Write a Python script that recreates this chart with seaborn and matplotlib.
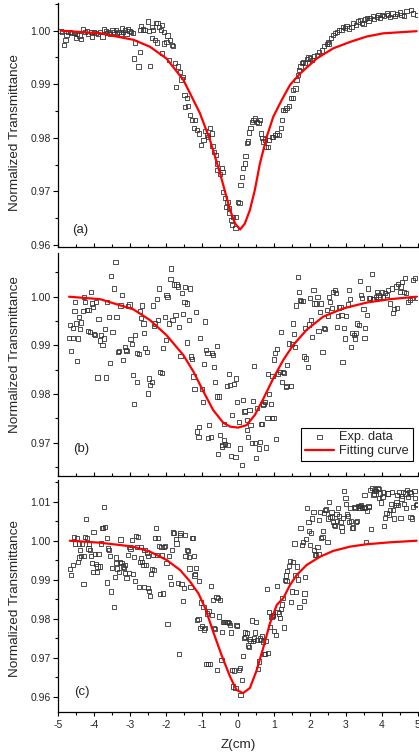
import matplotlib
matplotlib.use('Agg')
import matplotlib.pyplot as plt
from matplotlib.ticker import MultipleLocator, FormatStrFormatter
import seaborn as sns

# ---- panel (a) measured data ----
a_z = [-4.94, -4.90, -4.83, -4.80, -4.77, -4.72, -4.68, -4.63, -4.57, -4.54,
       -4.50, -4.47, -4.41, -4.37, -4.31, -4.26, -4.21, -4.17, -4.10, -4.06,
       -4.00, -3.94, -3.89, -3.85, -3.77, -3.73, -3.68, -3.64, -3.59, -3.55,
       -3.49, -3.44, -3.40, -3.36, -3.30, -3.26, -3.22, -3.19, -3.14, -3.10,
       -3.07, -3.02, -2.98, -2.93, -2.89, -2.87, -2.77, -2.73, -2.72, -2.70,
       -2.65, -2.59, -2.51, -2.47, -2.44, -2.40, -2.39, -2.36, -2.31, -2.28,
       -2.26, -2.24, -2.19, -2.15, -2.12, -2.11, -2.07, -2.05, -1.99, -1.96,
       -1.93, -1.89, -1.84, -1.80, -1.75, -1.73, -1.68, -1.61, -1.57, -1.54,
       -1.49, -1.47, -1.43, -1.38, -1.34, -1.29, -1.22, -1.19, -1.15, -1.09,
       -1.03, -0.96, -0.92, -0.87, -0.83, -0.78, -0.73, -0.71, -0.66, -0.61,
       -0.59, -0.58, -0.50, -0.45, -0.43, -0.41, -0.36, -0.33, -0.29, -0.26,
       -0.24, -0.19, -0.16, -0.13, -0.07, -0.05, 0.00, 0.04, 0.07, 0.12,
       0.15, 0.19, 0.21, 0.24, 0.29, 0.31, 0.35, 0.38, 0.43, 0.47,
       0.52, 0.57, 0.61, 0.64, 0.68, 0.71, 0.75, 0.78, 0.83, 0.87,
       0.94, 0.98, 1.03, 1.08, 1.15, 1.20, 1.23, 1.26, 1.31, 1.35,
       1.41, 1.47, 1.52, 1.54, 1.60, 1.63, 1.68, 1.70, 1.74, 1.77,
       1.82, 1.86, 1.91, 1.96, 2.00, 2.07, 2.12, 2.19, 2.26, 2.34,
       2.40, 2.47, 2.51, 2.54, 2.58, 2.65, 2.70, 2.75, 2.82, 2.88,
       2.93, 2.98, 3.02, 3.10, 3.16, 3.21, 3.28, 3.35, 3.40, 3.44,
       3.49, 3.53, 3.58, 3.63, 3.67, 3.75, 3.79, 3.86, 3.91, 3.95,
       4.00, 4.06, 4.14, 4.18, 4.23, 4.30, 4.37, 4.42, 4.51, 4.55,
       4.62, 4.69, 4.81, 4.88, 4.97]
a_t = [1.0000, 0.9998, 0.9974, 0.9982, 0.9992, 0.9997, 0.9998, 0.9995, 0.9996, 0.9995,
       0.9986, 0.9993, 0.9991, 0.9984, 1.0003, 0.9997, 1.0000, 0.9994, 0.9997, 0.9988,
       0.9997, 0.9996, 0.9994, 0.9998, 0.9989, 1.0002, 0.9999, 0.9995, 0.9998, 0.9993,
       1.0001, 0.9998, 1.0001, 0.9995, 0.9998, 0.9993, 1.0004, 0.9998, 1.0001, 0.9993,
       1.0003, 0.9999, 0.9997, 0.9995, 0.9948, 0.9978, 0.9933, 0.9960, 1.0001, 1.0009,
       1.0002, 1.0001, 1.0017, 0.9999, 0.9934, 1.0007, 0.9986, 1.0001, 0.9983, 1.0014,
       0.9978, 1.0015, 1.0007, 1.0001, 0.9958, 1.0010, 0.9998, 0.9976, 0.9979, 0.9991,
       0.9945, 0.9982, 0.9973, 0.9972, 0.9940, 0.9895, 0.9933, 0.9923, 0.9909, 0.9913,
       0.9880, 0.9858, 0.9874, 0.9859, 0.9843, 0.9833, 0.9818, 0.9833, 0.9814, 0.9808,
       0.9787, 0.9796, 0.9812, 0.9805, 0.9802, 0.9818, 0.9808, 0.9784, 0.9774, 0.9768,
       0.9740, 0.9752, 0.9733, 0.9743, 0.9736, 0.9699, 0.9687, 0.9671, 0.9681, 0.9669,
       0.9659, 0.9647, 0.9637, 0.9653, 0.9631, 0.9653, 0.9681, 0.9678, 0.9712, 0.9727,
       0.9743, 0.9752, 0.9766, 0.9790, 0.9793, 0.9810, 0.9818, 0.9830, 0.9833, 0.9836,
       0.9830, 0.9827, 0.9833, 0.9808, 0.9799, 0.9793, 0.9797, 0.9783, 0.9783, 0.9796,
       0.9802, 0.9801, 0.9805, 0.9808, 0.9805, 0.9818, 0.9833, 0.9852, 0.9852, 0.9855,
       0.9859, 0.9874, 0.9874, 0.9889, 0.9892, 0.9908, 0.9917, 0.9927, 0.9933, 0.9939,
       0.9942, 0.9940, 0.9947, 0.9950, 0.9948, 0.9945, 0.9952, 0.9955, 0.9960, 0.9963,
       0.9972, 0.9975, 0.9979, 0.9976, 0.9987, 0.9992, 0.9996, 0.9998, 1.0001, 1.0001,
       1.0007, 1.0005, 1.0009, 1.0004, 1.0007, 1.0014, 1.0011, 1.0017, 1.0020, 1.0015,
       1.0012, 1.0021, 1.0023, 1.0019, 1.0023, 1.0027, 1.0021, 1.0026, 1.0029, 1.0023,
       1.0029, 1.0027, 1.0032, 1.0029, 1.0026, 1.0032, 1.0027, 1.0031, 1.0034, 1.0029,
       1.0027, 1.0036, 1.0039, 1.0032, 1.0029]
# panel (a) fitting curve
af_z = [-4.93, -3.84, -2.91, -2.45, -1.99, -1.52, -1.06, -0.78, -0.50, -0.22, -0.08,
        0.06, 0.19, 0.33, 0.47, 0.61, 0.80, 0.98, 1.22, 1.45, 1.73, 2.19, 2.65, 3.12,
        3.58, 4.04, 4.97]
af_t = [1.0000, 0.9995, 0.9983, 0.9970, 0.9948, 0.9908, 0.9846, 0.9796, 0.9734, 0.9665, 0.9640,
        0.9629, 0.9640, 0.9665, 0.9703, 0.9752, 0.9802, 0.9839, 0.9871, 0.9899, 0.9920, 0.9948,
        0.9967, 0.9979, 0.9989, 0.9995, 0.9999]

# ---- panel (b) measured data ----
b_z = [-4.70, -4.68, -4.65, -4.60, -4.58, -4.55, -4.54, -4.51, -4.47, -4.45,
       -4.43, -4.40, -4.36, -4.32, -4.29, -4.25, -4.21, -4.18, -4.16, -4.12,
       -4.09, -4.06, -4.04, -4.00, -3.97, -3.94, -3.91, -3.88, -3.84, -3.81,
       -3.77, -3.73, -3.70, -3.67, -3.64, -3.59, -3.56, -3.53, -3.49, -3.45,
       -3.41, -3.38, -3.34, -3.30, -3.27, -3.23, -3.19, -3.15, -3.12, -3.10,
       -3.06, -3.02, -2.99, -2.95, -2.93, -2.89, -2.87, -2.82, -2.80, -2.75,
       -2.72, -2.70, -2.66, -2.63, -2.61, -2.58, -2.54, -2.51, -2.48, -2.44,
       -2.40, -2.37, -2.34, -2.30, -2.26, -2.23, -2.19, -2.16, -2.12, -2.08,
       -2.04, -2.01, -1.99, -1.96, -1.92, -1.88, -1.86, -1.82, -1.78, -1.74,
       -1.71, -1.67, -1.63, -1.60, -1.56, -1.53, -1.49, -1.47, -1.43, -1.41,
       -1.37, -1.34, -1.31, -1.27, -1.24, -1.21, -1.17, -1.14, -1.10, -1.08,
       -1.05, -1.01, -0.98, -0.95, -0.92, -0.88, -0.85, -0.83, -0.80, -0.76,
       -0.72, -0.69, -0.66, -0.63, -0.59, -0.58, -0.55, -0.52, -0.49, -0.45,
       -0.43, -0.40, -0.38, -0.35, -0.31, -0.27, -0.24, -0.22, -0.19, -0.16,
       -0.12, -0.07, -0.06, -0.02, 0.02, 0.06, 0.10, 0.15, 0.18, 0.20,
       0.24, 0.26, 0.29, 0.32, 0.35, 0.38, 0.41, 0.45, 0.47, 0.51,
       0.54, 0.58, 0.61, 0.64, 0.67, 0.69, 0.71, 0.75, 0.78, 0.82,
       0.84, 0.87, 0.91, 0.94, 0.96, 0.99, 1.01, 1.03, 1.06, 1.09,
       1.12, 1.16, 1.20, 1.22, 1.26, 1.29, 1.33, 1.35, 1.37, 1.43,
       1.47, 1.50, 1.52, 1.56, 1.59, 1.62, 1.66, 1.70, 1.73, 1.76,
       1.80, 1.84, 1.87, 1.90, 1.94, 1.98, 2.00, 2.02, 2.07, 2.10,
       2.13, 2.16, 2.21, 2.24, 2.28, 2.32, 2.35, 2.39, 2.43, 2.47,
       2.50, 2.54, 2.57, 2.62, 2.65, 2.69, 2.73, 2.75, 2.78, 2.82,
       2.85, 2.88, 2.91, 2.94, 2.98, 3.01, 3.05, 3.08, 3.11, 3.14,
       3.18, 3.22, 3.26, 3.29, 3.32, 3.36, 3.39, 3.42, 3.45, 3.49,
       3.52, 3.54, 3.58, 3.61, 3.65, 3.68, 3.72, 3.76, 3.79, 3.84,
       3.87, 3.91, 3.95, 4.00, 4.04, 4.09, 4.14, 4.18, 4.23, 4.28,
       4.31, 4.35, 4.39, 4.42, 4.46, 4.50, 4.54, 4.57, 4.61, 4.65,
       4.68, 4.73, 4.78, 4.83, 4.88, 4.93, 4.97]
b_t = [0.9916, 0.9942, 0.9889, 0.9916, 0.9935, 0.9971, 0.9990, 0.9945, 0.9868, 0.9914,
       0.9958, 0.9933, 0.9947, 0.9971, 1.0000, 0.9990, 0.9973, 0.9929, 0.9973, 0.9928,
       1.0009, 0.9986, 0.9979, 0.9923, 0.9921, 0.9990, 0.9834, 0.9955, 0.9910, 0.9921,
       0.9901, 0.9914, 0.9934, 0.9834, 0.9990, 0.9959, 0.9864, 1.0043, 0.9927, 1.0017,
       1.0072, 0.9959, 0.9887, 0.9888, 0.9982, 1.0003, 0.9870, 0.9897, 0.9890, 0.9888,
       0.9981, 0.9984, 0.9913, 0.9903, 0.9839, 0.9779, 0.9921, 0.9884, 0.9825, 0.9882,
       0.9971, 0.9957, 0.9982, 0.9945, 0.9925, 0.9894, 0.9886, 0.9801, 0.9832, 0.9818,
       0.9824, 0.9982, 0.9940, 0.9945, 0.9995, 0.9953, 1.0017, 0.9846, 0.9844, 0.9894,
       0.9958, 0.9911, 1.0003, 0.9999, 0.9945, 1.0036, 1.0058, 0.9952, 1.0025, 0.9962,
       1.0025, 1.0021, 0.9938, 0.9878, 1.0007, 0.9964, 0.9990, 1.0020, 0.9986, 0.9906,
       0.9953, 1.0017, 0.9877, 0.9872, 0.9836, 0.9810, 0.9969, 0.9723, 0.9712, 0.9733,
       0.9916, 0.9810, 0.9784, 0.9861, 0.9949, 0.9890, 0.9884, 0.9709, 0.9736, 0.9712,
       0.9884, 0.9880, 0.9856, 0.9824, 0.9795, 0.9899, 0.9676, 0.9795, 0.9716, 0.9692,
       0.9695, 0.9705, 0.9738, 0.9697, 0.9817, 0.9695, 0.9842, 0.9818, 0.9673, 0.9757,
       0.9820, 0.9671, 0.9832, 0.9784, 0.9743, 0.9688, 0.9654, 0.9788, 0.9764, 0.9765,
       0.9747, 0.9726, 0.9712, 0.9767, 0.9736, 0.9699, 0.9786, 0.9858, 0.9699, 0.9669,
       0.9771, 0.9688, 0.9702, 0.9738, 0.9738, 0.9777, 0.9779, 0.9784, 0.9690, 0.9750,
       0.9842, 0.9800, 0.9779, 0.9750, 0.9837, 0.9750, 0.9871, 0.9884, 0.9707, 0.9892,
       0.9842, 0.9846, 0.9927, 0.9825, 0.9846, 0.9844, 0.9814, 0.9816, 0.9860, 0.9904,
       0.9816, 0.9903, 0.9945, 0.9923, 0.9897, 0.9982, 1.0040, 1.0009, 0.9993, 0.9992,
       0.9992, 0.9877, 0.9935, 0.9873, 0.9856, 0.9943, 0.9998, 0.9953, 0.9918, 1.0014,
       0.9986, 0.9986, 1.0000, 0.9930, 0.9969, 0.9986, 0.9886, 0.9935, 0.9933, 0.9973,
       0.9961, 1.0000, 0.9990, 0.9976, 1.0010, 1.0014, 1.0007, 0.9938, 0.9960, 0.9978,
       0.9979, 0.9962, 0.9866, 0.9935, 0.9914, 0.9961, 0.9984, 1.0014, 0.9995, 0.9897,
       0.9926, 0.9921, 0.9914, 0.9925, 0.9945, 0.9942, 1.0033, 1.0003, 0.9997, 0.9974,
       0.9916, 0.9935, 0.9962, 1.0017, 0.9997, 0.9997, 1.0047, 0.9995, 0.9995, 1.0000,
       1.0010, 1.0003, 1.0000, 1.0010, 1.0000, 1.0007, 1.0003, 1.0014, 0.9986, 1.0017,
       0.9966, 0.9975, 1.0021, 0.9976, 1.0027, 1.0010, 1.0021, 1.0031, 1.0010, 1.0038,
       1.0007, 0.9990, 0.9993, 0.9998, 1.0034, 1.0038, 0.9998]
# panel (b) fitting curve
bf_z = [-4.70, -3.84, -2.91, -2.45, -1.99, -1.52, -1.24, -0.96, -0.69, -0.41, -0.22, 0.00,
        0.24, 0.47, 0.71, 0.98, 1.26, 1.54, 1.91, 2.37, 2.93, 3.58, 4.23, 4.97]
bf_t = [1.0000, 0.9995, 0.9974, 0.9952, 0.9921, 0.9880, 0.9846, 0.9805, 0.9767, 0.9741, 0.9733,
        0.9731, 0.9736, 0.9757, 0.9791, 0.9832, 0.9870, 0.9901, 0.9932, 0.9959, 0.9976, 0.9988,
        0.9995, 1.0000]

# ---- panel (c) measured data ----
c_z = [-4.68, -4.65, -4.60, -4.56, -4.53, -4.49, -4.46, -4.43, -4.42, -4.40,
       -4.36, -4.33, -4.30, -4.28, -4.25, -4.22, -4.19, -4.16, -4.14, -4.12,
       -4.09, -4.06, -4.04, -4.02, -3.98, -3.96, -3.93, -3.91, -3.88, -3.85,
       -3.82, -3.79, -3.75, -3.72, -3.69, -3.65, -3.64, -3.61, -3.58, -3.55,
       -3.53, -3.50, -3.46, -3.43, -3.40, -3.38, -3.36, -3.32, -3.29, -3.27,
       -3.24, -3.21, -3.18, -3.15, -3.14, -3.10, -3.07, -3.04, -3.02, -2.99,
       -2.96, -2.93, -2.89, -2.87, -2.84, -2.81, -2.78, -2.75, -2.73, -2.71,
       -2.69, -2.66, -2.63, -2.62, -2.60, -2.57, -2.54, -2.51, -2.50, -2.48,
       -2.45, -2.42, -2.39, -2.37, -2.34, -2.31, -2.28, -2.25, -2.23, -2.20,
       -2.17, -2.13, -2.11, -2.08, -2.05, -2.02, -1.99, -1.96, -1.93, -1.89,
       -1.86, -1.84, -1.81, -1.77, -1.73, -1.71, -1.68, -1.65, -1.62, -1.60,
       -1.57, -1.54, -1.51, -1.48, -1.46, -1.43, -1.40, -1.37, -1.35, -1.32,
       -1.29, -1.26, -1.23, -1.21, -1.19, -1.17, -1.13, -1.10, -1.08, -1.05,
       -1.02, -0.99, -0.96, -0.95, -0.92, -0.89, -0.86, -0.83, -0.81, -0.78,
       -0.75, -0.72, -0.69, -0.66, -0.63, -0.60, -0.58, -0.55, -0.52, -0.49,
       -0.46, -0.44, -0.41, -0.38, -0.35, -0.32, -0.29, -0.26, -0.22, -0.19,
       -0.16, -0.13, -0.10, -0.07, -0.04, -0.02, 0.02, 0.05, 0.07, 0.10,
       0.13, 0.16, 0.19, 0.21, 0.24, 0.27, 0.30, 0.32, 0.35, 0.39,
       0.41, 0.45, 0.47, 0.50, 0.53, 0.56, 0.58, 0.61, 0.64, 0.67,
       0.70, 0.73, 0.76, 0.79, 0.81, 0.84, 0.87, 0.90, 0.93, 0.96,
       0.98, 1.01, 1.05, 1.08, 1.10, 1.13, 1.16, 1.19, 1.22, 1.24,
       1.27, 1.30, 1.33, 1.35, 1.37, 1.41, 1.45, 1.48, 1.51, 1.54,
       1.57, 1.60, 1.62, 1.65, 1.68, 1.71, 1.74, 1.77, 1.80, 1.83,
       1.85, 1.87, 1.90, 1.93, 1.96, 1.98, 2.01, 2.04, 2.07, 2.10,
       2.12, 2.15, 2.18, 2.21, 2.24, 2.26, 2.29, 2.32, 2.35, 2.37,
       2.40, 2.43, 2.46, 2.49, 2.51, 2.54, 2.57, 2.60, 2.62, 2.65,
       2.68, 2.71, 2.74, 2.76, 2.79, 2.82, 2.85, 2.88, 2.90, 2.93,
       2.96, 2.99, 3.01, 3.04, 3.07, 3.10, 3.13, 3.15, 3.18, 3.21,
       3.24, 3.27, 3.29, 3.32, 3.35, 3.38, 3.40, 3.43, 3.46, 3.49,
       3.52, 3.54, 3.57, 3.60, 3.63, 3.65, 3.68, 3.71, 3.74, 3.77,
       3.79, 3.82, 3.85, 3.88, 3.91, 3.93, 3.96, 3.99, 4.02, 4.04,
       4.07, 4.10, 4.13, 4.16, 4.18, 4.21, 4.24, 4.27, 4.29, 4.32,
       4.35, 4.38, 4.41, 4.43, 4.46, 4.49, 4.52, 4.55, 4.57, 4.60,
       4.63, 4.66, 4.68, 4.71, 4.74, 4.77, 4.80, 4.82, 4.85, 4.88,
       4.91, 4.93, 4.96, 4.99]
c_t = [0.9927, 0.9912, 0.9938, 1.0009, 0.9993, 1.0006, 0.9946, 0.9957, 0.9993, 0.9976,
       0.9961, 0.9993, 0.9890, 0.9962, 1.0009, 1.0055, 1.0006, 0.9980, 0.9991, 0.9976,
       0.9962, 0.9942, 0.9921, 1.0023, 0.9966, 0.9940, 0.9919, 0.9934, 0.9967, 0.9934,
       0.9993, 1.0033, 1.0032, 1.0087, 1.0036, 0.9893, 1.0006, 0.9980, 0.9976, 0.9961,
       0.9870, 0.9931, 0.9831, 0.9908, 0.9957, 0.9942, 0.9929, 0.9919, 0.9945, 1.0003,
       0.9942, 0.9934, 0.9931, 0.9918, 0.9938, 0.9904, 0.9963, 0.9917, 0.9985, 0.9979,
       1.0002, 0.9914, 0.9959, 0.9898, 1.0013, 0.9985, 1.0010, 0.9882, 0.9945, 0.9983,
       0.9955, 0.9945, 0.9938, 0.9882, 0.9976, 0.9938, 0.9970, 0.9961, 0.9878, 0.9872,
       0.9859, 0.9914, 0.9927, 0.9963, 0.9925, 1.0006, 1.0033, 0.9963, 1.0008, 0.9986,
       0.9863, 0.9985, 0.9963, 0.9865, 0.9985, 0.9987, 0.9944, 0.9786, 0.9961, 0.9908,
       0.9889, 0.9976, 1.0021, 1.0020, 1.0004, 0.9993, 0.9891, 0.9711, 1.0014, 1.0019,
       0.9889, 0.9846, 0.9878, 1.0014, 0.9962, 0.9976, 0.9974, 0.9959, 0.9929, 0.9882,
       1.0008, 1.0006, 0.9961, 0.9911, 0.9915, 0.9931, 0.9797, 0.9800, 0.9898, 0.9776,
       0.9842, 0.9782, 0.9831, 0.9773, 0.9777, 0.9685, 0.9814, 0.9685, 0.9821, 0.9685,
       0.9885, 0.9810, 0.9848, 0.9776, 0.9774, 0.9855, 0.9670, 0.9853, 0.9806, 0.9848,
       0.9695, 0.9766, 0.9793, 0.9793, 0.9793, 0.9791, 0.9791, 0.9789, 0.9784, 0.9765,
       0.9670, 0.9627, 0.9668, 0.9623, 0.9784, 0.9782, 0.9670, 0.9674, 0.9606, 0.9644,
       0.9704, 0.9752, 0.9765, 0.9754, 0.9763, 0.9732, 0.9727, 0.9748, 0.9744, 0.9796,
       0.9744, 0.9750, 0.9765, 0.9793, 0.9746, 0.9671, 0.9691, 0.9750, 0.9745, 0.9756,
       0.9742, 0.9711, 0.9710, 0.9744, 0.9877, 0.9712, 0.9817, 0.9779, 0.9806, 0.9807,
       0.9810, 0.9769, 0.9759, 0.9884, 0.9817, 0.9814, 0.9803, 0.9825, 0.9837, 0.9853,
       0.9778, 0.9899, 0.9911, 0.9898, 0.9922, 0.9936, 0.9948, 0.9844, 0.9870, 0.9946,
       0.9993, 0.9912, 0.9868, 0.9934, 0.9901, 0.9831, 1.0032, 0.9989, 0.9997, 0.9846,
       0.9865, 0.9908, 1.0004, 1.0083, 1.0049, 1.0025, 0.9989, 1.0019, 1.0057, 1.0074,
       0.9976, 0.9965, 0.9963, 0.9985, 0.9966, 1.0053, 1.0074, 1.0008, 1.0010, 1.0025,
       1.0070, 1.0078, 1.0080, 0.9997, 1.0057, 1.0100, 1.0060, 1.0074, 1.0061, 1.0049,
       1.0040, 1.0037, 1.0068, 1.0050, 1.0083, 1.0063, 1.0049, 1.0036, 1.0025, 1.0059,
       1.0127, 1.0110, 1.0095, 1.0068, 1.0064, 1.0047, 1.0083, 1.0050, 1.0032, 1.0034,
       1.0087, 1.0083, 1.0049, 1.0050, 1.0089, 1.0085, 1.0089, 1.0091, 1.0084, 1.0087,
       1.0117, 1.0084, 0.9997, 1.0076, 1.0089, 1.0087, 1.0129, 1.0029, 1.0135, 1.0117,
       1.0121, 1.0131, 1.0127, 1.0135, 1.0132, 1.0110, 1.0121, 1.0098, 1.0112, 1.0124,
       1.0038, 1.0059, 1.0070, 1.0121, 1.0121, 1.0067, 1.0078, 1.0095, 1.0125, 1.0078,
       1.0057, 1.0091, 1.0098, 1.0117, 1.0091, 1.0125, 1.0059, 1.0108, 1.0114, 1.0125,
       1.0093, 1.0121, 1.0083, 1.0129, 1.0112, 1.0125, 1.0061, 1.0121, 1.0057, 1.0087,
       1.0127, 1.0110, 1.0091, 1.0095]
# panel (c) fitting curve
cf_z = [-4.68, -3.84, -2.91, -2.45, -1.99, -1.61, -1.33, -1.10, -0.91, -0.69, -0.46, -0.22,
        -0.04, 0.14, 0.33, 0.51, 0.70, 0.89, 1.08, 1.26, 1.45, 1.63, 1.91, 2.28, 2.65,
        3.12, 3.58, 4.23, 4.97]
cf_t = [1.0000, 0.9995, 0.9985, 0.9972, 0.9951, 0.9925, 0.9895, 0.9865, 0.9827, 0.9767, 0.9708,
        0.9652, 0.9618, 0.9610, 0.9623, 0.9666, 0.9725, 0.9789, 0.9836, 0.9853, 0.9887, 0.9912,
        0.9938, 0.9959, 0.9974, 0.9985, 0.9991, 0.9996, 1.0000]

panel_tags = ['(a)', '(b)', '(c)']
y_label = 'Normalized Transmittance'
x_label = 'Z(cm)'


sns.set_style('ticks')
plt.rcParams['font.family'] = ['Liberation Sans', 'DejaVu Sans']
plt.rcParams['axes.unicode_minus'] = False

fig = plt.figure(figsize=(4.19, 7.56), dpi=100)

boxes = [[0.1391, 0.6733, 0.8578, 0.3228],
         [0.1391, 0.3708, 0.8578, 0.2945],
         [0.1391, 0.0582, 0.8578, 0.3069]]
ylims = [(0.95963, 1.00517), (0.96322, 1.00898), (0.95617, 1.01555)]
tag_pos = [(0.06, 0.07), (0.065, 0.12), (0.065, 0.086)]
label_y = [0.467, 0.542, 0.487]

data = [(a_z, a_t, af_z, af_t), (b_z, b_t, bf_z, bf_t), (c_z, c_t, cf_z, cf_t)]

for i, (z, t, fz, ft) in enumerate(data):
    ax = fig.add_axes(boxes[i])

    sns.scatterplot(x=z, y=t, ax=ax, marker='s', s=9, linewidth=0.6,
                    label='Exp. data', legend=False, zorder=2)
    pts = ax.collections[-1]
    pts.set_facecolor('none')
    pts.set_edgecolor('#333333')

    sns.lineplot(x=fz, y=ft, ax=ax, color='red', linewidth=1.6, sort=False,
                 estimator=None, label='Fitting curve', legend=False, zorder=3)

    ax.set_xlim(-5, 5)
    ax.set_ylim(*ylims[i])

    # axis cosmetics (Origin style)
    for s in ['top', 'right']:
        ax.spines[s].set_visible(False)
    for s in ['left', 'bottom']:
        ax.spines[s].set_color('black')
        ax.spines[s].set_linewidth(0.9)

    ax.xaxis.set_major_locator(MultipleLocator(1))
    ax.xaxis.set_minor_locator(MultipleLocator(0.5))
    ax.yaxis.set_major_locator(MultipleLocator(0.01))
    ax.yaxis.set_minor_locator(MultipleLocator(0.005))
    ax.yaxis.set_major_formatter(FormatStrFormatter('%.2f'))

    ax.tick_params(axis='y', which='major', direction='out', length=3.5, width=0.8,
                   labelsize=7.5, pad=2, color='black')
    ax.tick_params(axis='y', which='minor', direction='out', length=2, width=0.8,
                   color='black')
    xdir = 'out' if i == 2 else 'in'
    ax.tick_params(axis='x', which='major', direction=xdir, length=3, width=0.8,
                   labelsize=7.5, pad=3, color='black', labelbottom=(i == 2))
    ax.tick_params(axis='x', which='minor', direction=xdir, length=2, width=0.8,
                   color='black')

    ax.set_ylabel(y_label, fontsize=9.7)
    ax.yaxis.set_label_coords(-0.104, label_y[i])
    if i == 2:
        ax.set_xlabel(x_label, fontsize=9.7)
        ax.xaxis.set_label_coords(0.5, -0.118)
    else:
        ax.set_xlabel('')

    ax.text(tag_pos[i][0], tag_pos[i][1], panel_tags[i], transform=ax.transAxes,
            fontsize=9.5, ha='center', va='center')

    if i == 1:
        leg = ax.legend(loc='lower left', bbox_to_anchor=(0.675, 0.065),
                        frameon=True, fancybox=False, edgecolor='black', framealpha=1,
                        fontsize=9.2, handlelength=2.3, borderpad=0.3,
                        labelspacing=0.15, handletextpad=0.4, borderaxespad=0)
        leg.get_frame().set_linewidth(0.8)

fig.savefig('out.png', dpi=100)
